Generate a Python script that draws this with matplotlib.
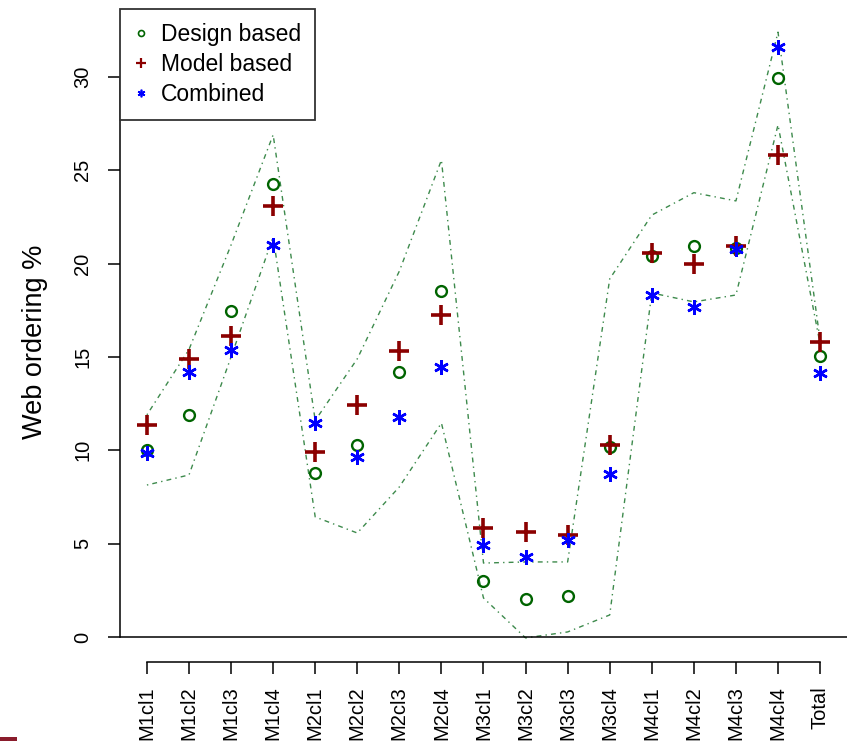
import matplotlib
matplotlib.use("Agg")
from matplotlib import pyplot as plt
from matplotlib.lines import Line2D
from matplotlib.patches import Rectangle

plt.rcParams['font.family'] = ['Liberation Sans', 'DejaVu Sans']

# categories along the x axis
groups = ["M1cl1", "M1cl2", "M1cl3", "M1cl4", "M2cl1", "M2cl2", "M2cl3", "M2cl4",
          "M3cl1", "M3cl2", "M3cl3", "M3cl4", "M4cl1", "M4cl2", "M4cl3", "M4cl4", "Total"]

# estimates (%)
design = [10.0, 11.9, 17.45, 24.25, 8.8, 10.3, 14.2, 18.55,
          3.0, 2.04, 2.2, 10.18, 20.4, 20.95, 20.85, 29.95, 15.05]
model = [11.36, 14.9, 16.1, 23.1, 9.9, 12.43, 15.3, 17.25,
         5.84, 5.6, 5.46, 10.28, 20.57, 20.0, 20.95, 25.8, 15.8]
combined = [9.85, 14.2, 15.37, 21.0, 11.46, 9.64, 11.8, 14.46,
            4.93, 4.29, 5.2, 8.73, 18.32, 17.68, 20.79, 31.6, 14.14]

# band lines
upper = [11.9, 15.4, 21.0, 26.9, 11.6, 14.9, 19.6, 25.55,
         3.96, 4.02, 4.02, 19.18, 22.6, 23.8, 23.36, 32.4, 15.9]
lower = [8.14, 8.68, 15.0, 21.43, 6.43, 5.57, 8.04, 11.46,
         2.09, -0.05, 0.27, 1.18, 18.43, 17.95, 18.32, 27.43, 15.7]

xs = list(range(1, len(groups) + 1))

fig = plt.figure(figsize=(8.48, 7.41), dpi=100)
W, H = 848.0, 741.0
ax = fig.add_axes([120 / W, (H - 662) / H, 727 / W, 653 / H])

ax.set_xlim(0.36, 17.64)
ax.set_ylim(-1.34, 33.64)

# band lines
dd = (0, (1.0, 3.0, 3.5, 3.0))
ax.plot(xs, upper, color='#3d8a4c', lw=1.0, linestyle=dd)
ax.plot(xs, lower, color='#3d8a4c', lw=1.0, linestyle=dd)

# points
ax.plot(xs, design, linestyle='none', marker='o', ms=7.8, mfc='none',
        mec='#006400', mew=1.7)
ax.plot(xs, model, linestyle='none', marker='+', ms=14, mec='#8B0000', mew=2.6)
ax.plot(xs, combined, linestyle='none', marker=(6, 2, 0), ms=10.5, mec='blue', mew=1.8)

# axis at zero
ax.axhline(0, color='black', lw=1.1)

for s in ['top', 'right']:
    ax.spines[s].set_visible(False)
ax.spines['left'].set_bounds(0, 30)
ax.spines['bottom'].set_bounds(1, 17)
ax.spines['left'].set_linewidth(1.1)
ax.spines['bottom'].set_linewidth(1.1)

ax.set_yticks([0, 5, 10, 15, 20, 25, 30])
ax.set_yticklabels(["0", "5", "10", "15", "20", "25", "30"], fontsize=14.5,
                   rotation=90, va='center')
ax.set_xticks(xs)
ax.set_xticklabels(groups, rotation=90, fontsize=14.5)
ax.tick_params(axis='y', length=9, width=1.1, pad=11)
ax.tick_params(axis='x', length=8.5, width=1.1, pad=9)

fig.text(35 / W, 1 - 342 / H, "Web ordering %", rotation=90, ha='center',
         va='center', fontsize=19.5)

# legend
handles = [
    Line2D([], [], linestyle='none', marker='o', ms=4.3, mfc='none', mec='#006400', mew=1.2),
    Line2D([], [], linestyle='none', marker='+', ms=7.5, mec='#8B0000', mew=1.6),
    Line2D([], [], linestyle='none', marker=(6, 2, 0), ms=5.5, mec='blue', mew=1.2),
]
leg = ax.legend(handles, ["Design based", "Model based", "Combined"],
                loc='upper left', bbox_to_anchor=(0, 1), borderaxespad=0,
                fontsize=16.5, fancybox=False, framealpha=1, borderpad=0.62,
                handlelength=0.6, handletextpad=0.55, labelspacing=0.3)
leg.get_frame().set_edgecolor('#333333')
leg.get_frame().set_linewidth(1.3)
leg.set_zorder(10)

# small dark red mark in the lower left corner
fig.add_artist(Rectangle((0, 0), 17 / W, 4 / H, transform=fig.transFigure,
                         color='#8a1c2c', lw=0))

fig.savefig("out.png", dpi=100)
